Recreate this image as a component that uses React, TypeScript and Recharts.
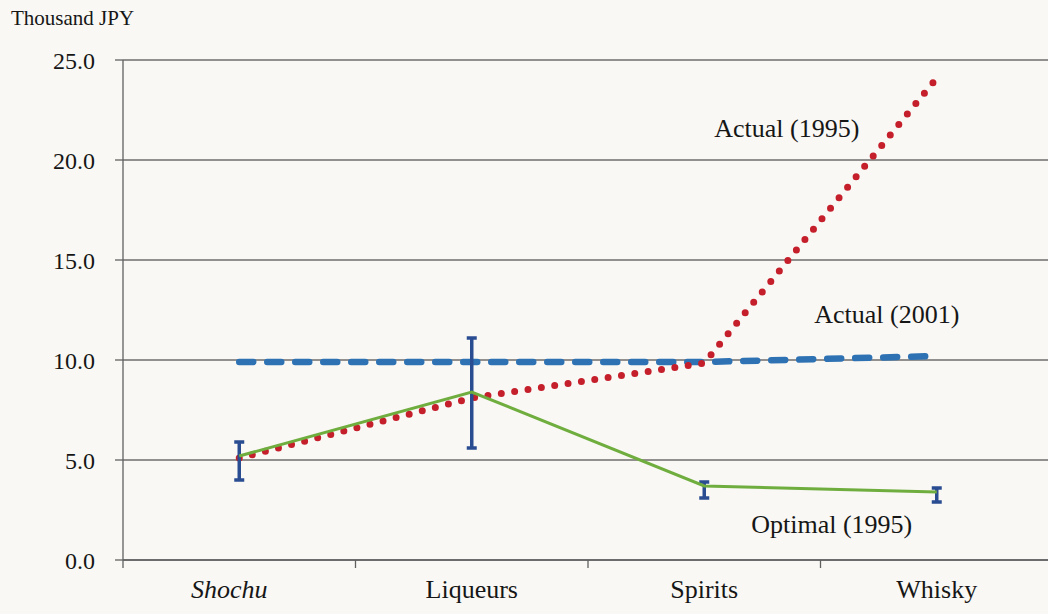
import {
  CartesianGrid,
  ErrorBar,
  Line,
  LineChart,
  XAxis,
  YAxis,
} from "recharts";

const categories = ["Shochu", "Liqueurs", "Spirits", "Whisky"];
const actual1995 = [5.1, 8.1, 9.85, 24.1];
const actual2001 = [9.9, 9.9, 9.9, 10.2];
const optimal1995 = [5.2, 8.4, 3.7, 3.4];
const optimalLow = [4.0, 5.6, 3.1, 2.9];
const optimalHigh = [5.9, 11.1, 3.9, 3.6];
const yTicks = [0, 5, 10, 15, 20, 25];

const data = categories.map((name, i) => ({
  name,
  actual1995: actual1995[i],
  actual2001: actual2001[i],
  optimal1995: optimal1995[i],
  optimalErr: [optimal1995[i] - optimalLow[i], optimalHigh[i] - optimal1995[i]],
}));

const FONT = "'Liberation Serif', 'Times New Roman', serif";
const INK = "#161616";
const AXIS = "#606060";
const HALF_BAND = 930 / categories.length / 2;

// category label plus the small tick mark on the left band boundary
function XTick(props: any) {
  const { x, y, payload } = props;
  const italic = payload.value === "Shochu";
  return (
    <g>
      <line x1={x - HALF_BAND} x2={x - HALF_BAND} y1={560} y2={568} stroke={AXIS} strokeWidth={1.3} />
      <text
        x={x}
        y={y}
        dx={italic ? -10 : 0}
        dy={30}
        textAnchor="middle"
        fontFamily={FONT}
        fontSize={26}
        fill={INK}
        fontStyle={italic ? "italic" : "normal"}
      >
        {payload.value}
      </text>
    </g>
  );
}

// draws a series name once, next to its last point
function seriesLabel(text: string, dx: number, dy: number) {
  return (props: any) => {
    const { x, y, index } = props;
    if (index !== categories.length - 1) return null;
    return (
      <text
        key={text}
        x={x + dx}
        y={y + dy}
        textAnchor="middle"
        fontFamily={FONT}
        fontSize={26}
        fill={INK}
      >
        {text}
      </text>
    );
  };
}

export default function App() {
  return (
    <div
      style={{
        position: "fixed",
        left: 0,
        top: 0,
        width: 1048,
        height: 614,
        overflow: "hidden",
        background: "#f9f8f4",
      }}
    >
      <div
        style={{
          position: "absolute",
          left: 11,
          top: 6,
          fontFamily: FONT,
          fontSize: 21,
          color: INK,
        }}
      >
        Thousand JPY
      </div>
      <LineChart
        width={1060}
        height={614}
        data={data}
        margin={{ top: 60, right: 7, bottom: 0, left: 0 }}
      >
        <CartesianGrid vertical={false} stroke="#6e6e6e" strokeWidth={1.3} />
        <XAxis
          dataKey="name"
          scale="band"
          height={54}
          stroke={AXIS}
          strokeWidth={1.3}
          tickLine={false}
          tick={<XTick />}
          interval={0}
        />
        <YAxis
          domain={[0, 25]}
          ticks={yTicks}
          width={123}
          stroke={AXIS}
          strokeWidth={1.3}
          tickSize={8}
          tickMargin={20}
          tickFormatter={(v: number) => v.toFixed(1)}
          tick={{ fontFamily: FONT, fontSize: 24, fill: INK }}
        />
        <Line
          dataKey="actual2001"
          stroke="#2e72b3"
          strokeWidth={6.5}
          strokeDasharray="14 14"
          strokeLinecap="round"
          dot={false}
          activeDot={false}
          isAnimationActive={false}
          label={seriesLabel("Actual (2001)", -50, -33)}
        />
        <Line
          dataKey="actual1995"
          stroke="#c41f2b"
          strokeWidth={7}
          strokeDasharray="0 13.5"
          strokeLinecap="round"
          dot={false}
          activeDot={false}
          isAnimationActive={false}
          label={seriesLabel("Actual (1995)", -150, 59)}
        />
        <Line
          dataKey="optimal1995"
          stroke="#6fae3e"
          strokeWidth={3}
          dot={false}
          activeDot={false}
          isAnimationActive={false}
          label={seriesLabel("Optimal (1995)", -105, 41)}
        >
          <ErrorBar
            dataKey="optimalErr"
            stroke="#2a4d92"
            strokeWidth={3.5}
            width={5}
          />
        </Line>
      </LineChart>
    </div>
  );
}
